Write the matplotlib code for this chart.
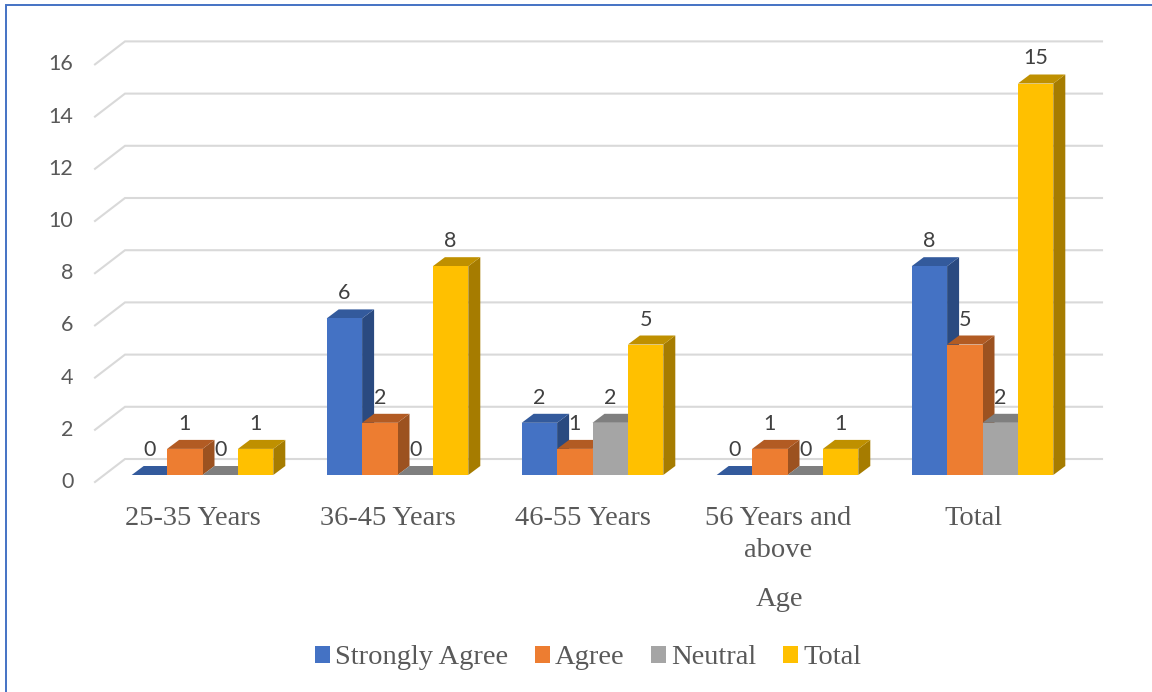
import matplotlib
matplotlib.use("Agg")
import matplotlib.pyplot as plt
from matplotlib.patches import Polygon, Patch

# data
categories = ["25-35 Years", "36-45 Years", "46-55 Years", "56 Years and\nabove", "Total"]
strongly_agree = [0, 6, 2, 0, 8]
agree = [1, 2, 1, 1, 5]
neutral = [0, 0, 2, 0, 2]
total = [1, 8, 5, 1, 15]
y_ticks = [0, 2, 4, 6, 8, 10, 12, 14, 16]
series_names = ["Strongly Agree", "Agree", "Neutral", "Total"]
series_values = [strongly_agree, agree, neutral, total]

# front, top, side colours
colors = ["#4472C4", "#ED7D31", "#A5A5A5", "#FFC000"]
top_colors = ["#335A9C", "#B25B23", "#7F7F7F", "#BF9000"]
side_colors = ["#2A4A80", "#9C5220", "#6E6E6E", "#A67C00"]

W, H = 1152, 692
x0_px = 202.5   # centre of first group
group_px = 195.0
y0_px = 475.0   # front base of the bars
unit_px = 26.1

fig = plt.figure(figsize=(W / 100, H / 100), dpi=100)
ax = fig.add_axes([0, 0, 1, 1])
ax.set_xlim(-x0_px / group_px, (W - x0_px) / group_px)
ax.set_ylim((y0_px - H) / unit_px, y0_px / unit_px)
ax.axis("off")

px = 1 / group_px   # one pixel in x data units
py = 1 / unit_px    # one pixel in y data units

bar_w = 35.4 * px
depth_x = 12 * px
depth_y = 9 * py

tick_font = ["Lato", "DejaVu Sans"]
serif_font = ["Liberation Serif", "DejaVu Serif"]
text_color = "#595959"

# gridlines on back wall with the diagonal going to the tick label
wall_left = (125 - x0_px) * px
wall_right = (1102 - x0_px) * px
front_left = (95 - x0_px) * px
for v in y_ticks:
    wall_y = v + 16 * py
    front_y = v - 7 * py
    ax.plot([front_left, wall_left, wall_right], [front_y, wall_y, wall_y],
            color="#D9D9D9", lw=1.5, zorder=1, solid_joinstyle="miter")
    ax.text((73.5 - x0_px) * px, front_y, str(v), ha="right", va="center",
            fontsize=15.5, color=text_color, family=tick_font)

# bars
for i in range(len(categories)):
    for s in range(len(series_values)):
        v = series_values[s][i]
        left = i + (s - 2) * bar_w
        right = left + bar_w
        ax.add_patch(Polygon([(right, 0), (right + depth_x, depth_y), (right + depth_x, v + depth_y), (right, v)],
                             facecolor=side_colors[s], edgecolor="none", zorder=2))
        ax.add_patch(Polygon([(left, v), (left + depth_x, v + depth_y), (right + depth_x, v + depth_y), (right, v)],
                             facecolor=top_colors[s], edgecolor="none", zorder=2))
        ax.add_patch(Polygon([(left, 0), (right, 0), (right, v), (left, v)],
                             facecolor=colors[s], edgecolor="none", zorder=2))
        ax.text(left + bar_w / 2, v + 25 * py, str(v), ha="center", va="center",
                fontsize=15.5, color="#404040", family=tick_font, zorder=3)

# category labels
for i, c in enumerate(categories):
    ax.text(i - 9.5 * px, -31 * py, c, ha="center", va="top", fontsize=20.5, color=text_color,
            family=serif_font, linespacing=1.36)

ax.text((779 - x0_px) * px, (y0_px - 599) * py, "Age", ha="center", va="center", fontsize=20.5,
        color=text_color, family=serif_font)

handles = [Patch(facecolor=c, edgecolor="none") for c in colors]
leg = ax.legend(handles, series_names, loc="center", bbox_to_anchor=(588 / W, 1 - 658 / H), ncols=4,
                frameon=False, handlelength=0.53, handleheight=0.5, handletextpad=0.18, columnspacing=0.93,
                prop={"family": serif_font, "size": 20.5}, labelcolor=text_color)

# outer blue frame (only top and left show)
ax.plot([(6 - x0_px) * px, (6 - x0_px) * px, (W - x0_px) * px],
        [(y0_px - H) * py, (y0_px - 4.5) * py, (y0_px - 4.5) * py],
        color="#4472C4", lw=1.4, zorder=4, solid_joinstyle="miter")

fig.savefig("out.png", dpi=100)
